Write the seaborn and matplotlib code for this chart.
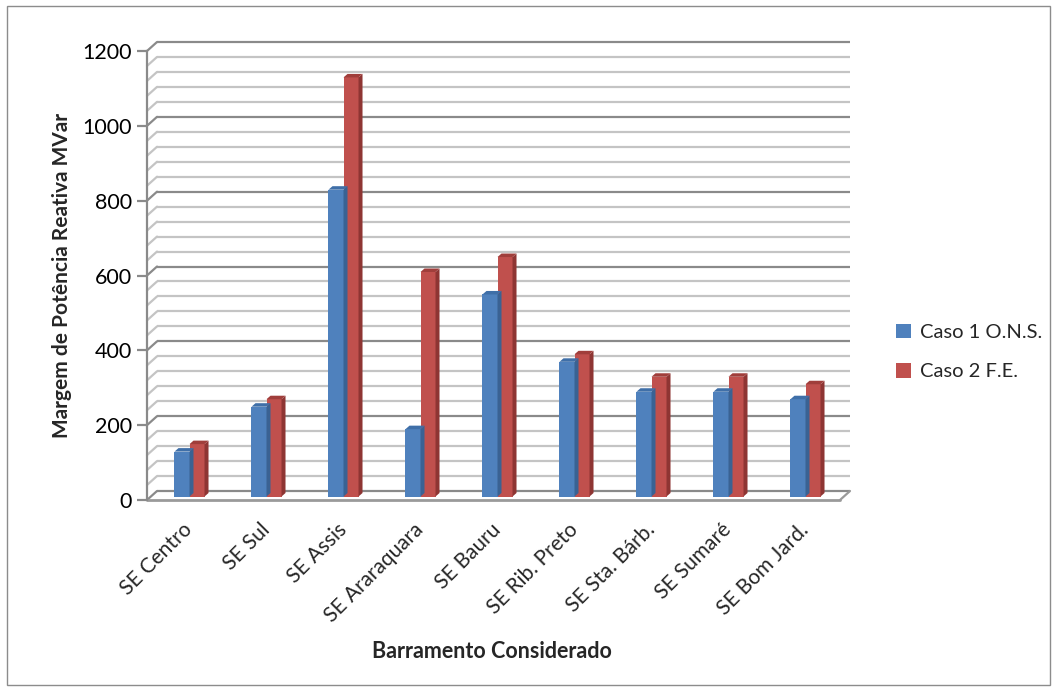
import matplotlib
matplotlib.use("Agg")
import matplotlib.pyplot as plt
import matplotlib.transforms as mtransforms
from matplotlib.patches import Polygon, Rectangle
import seaborn as sns
import pandas as pd

# --- data -------------------------------------------------------------
barramentos = ["SE Centro", "SE Sul", "SE Assis", "SE Araraquara", "SE Bauru",
               "SE Rib. Preto", "SE Sta. Bárb.", "SE Sumaré", "SE Bom Jard."]
caso1_ons = [120, 240, 820, 180, 540, 360, 280, 280, 260]
caso2_fe = [140, 260, 1120, 600, 640, 380, 320, 320, 300]
series_names = ["Caso 1 O.N.S.", "Caso 2 F.E."]
y_ticks = [0, 200, 400, 600, 800, 1000, 1200]

df = pd.DataFrame({
    "Barramento": barramentos * 2,
    "Margem": caso1_ons + caso2_fe,
    "Caso": [series_names[0]] * len(barramentos) + [series_names[1]] * len(barramentos),
})

# --- style ------------------------------------------------------------
sns.set_theme(style="white")
plt.rcParams["font.family"] = ["Lato", "DejaVu Sans"]

BLUE, RED = "#4F81BD", "#C0504D"
BLUE_SIDE, RED_SIDE = "#3A6293", "#8E3533"
BLUE_TOP, RED_TOP = "#3F6FA8", "#A03E3B"
MINOR_GRID, MAJOR_GRID = "#C4C4C4", "#8A8A8A"

DPI = 100
fig = plt.figure(figsize=(10.57, 6.91), dpi=DPI)
W, H = 1057, 691

# front plane of the plot area, in pixels
x0, x1 = 147, 840
y_zero, y_top = 500, 51
ax = fig.add_axes([x0 / W, (H - y_zero) / H, (x1 - x0) / W, (y_zero - y_top) / H])
ax.set_xlim(-0.5, len(barramentos) - 0.5)
ax.set_ylim(0, 1200)

# depth offsets (pixels) for the back wall and for the bars
WALL_DX, WALL_DY = 10, 9
BAR_DX, BAR_DY = 4, 3.5
wall_tr = ax.transData + mtransforms.ScaledTranslation(WALL_DX / DPI, WALL_DY / DPI, fig.dpi_scale_trans)
bar_shift = mtransforms.ScaledTranslation(BAR_DX / DPI, BAR_DY / DPI, fig.dpi_scale_trans)

xl = ax.get_xlim()
# back wall grid lines plus the diagonals on the left side wall
for v in range(0, 1201, 40):
    major = v % 200 == 0
    col = MAJOR_GRID if major else MINOR_GRID
    lw = 1.6
    ax.plot(xl, [v, v], color=col, lw=lw, transform=wall_tr, clip_on=False, zorder=1,
            solid_capstyle="butt")
    p0 = ax.transData.transform((xl[0], v))
    p1 = p0 + [WALL_DX, WALL_DY]
    ax.add_line(plt.Line2D([p0[0], p1[0]], [p0[1], p1[1]], color=col, lw=lw,
                           transform=None, clip_on=False, zorder=1))

# floor: front edge and right diagonal
pf0 = ax.transData.transform((xl[0], 0))
pf1 = ax.transData.transform((xl[1], 0))
ax.add_line(plt.Line2D([pf0[0], pf1[0]], [pf0[1], pf1[1]], color="#9A9A9A", lw=2,
                       transform=None, clip_on=False, zorder=2))
ax.add_line(plt.Line2D([pf1[0], pf1[0] + WALL_DX], [pf1[1], pf1[1] + WALL_DY], color="#9A9A9A",
                       lw=1.6, transform=None, clip_on=False, zorder=2))

# --- bars -------------------------------------------------------------
sns.barplot(data=df, x="Barramento", y="Margem", hue="Caso", palette=[BLUE, RED],
            width=0.39, saturation=1, ax=ax, edgecolor="none", linewidth=0, zorder=3)

SIDE_W, TOP_H = 4, 3.5
side_cols = {BLUE: (BLUE_SIDE, BLUE_TOP), RED: (RED_SIDE, RED_TOP)}
for cont, base_col in zip(ax.containers, [BLUE, RED]):
    side_c, top_c = side_cols[base_col]
    for bar in cont:
        bar.set_transform(ax.transData + bar_shift)
        bx, bw, bh = bar.get_x(), bar.get_width(), bar.get_height()
        br = ax.transData.transform((bx + bw, 0)) + [BAR_DX, BAR_DY]
        tl = ax.transData.transform((bx, bh)) + [BAR_DX, BAR_DY]
        tr = ax.transData.transform((bx + bw, bh)) + [BAR_DX, BAR_DY]
        d = [SIDE_W, TOP_H]
        ax.add_patch(Polygon([br, tr, tr + d, br + d], closed=True, facecolor=side_c,
                             edgecolor="none", transform=None, clip_on=False, zorder=3))
        ax.add_patch(Polygon([tl, tr, tr + d, tl + d], closed=True, facecolor=top_c,
                             edgecolor="none", transform=None, clip_on=False, zorder=3))

# --- axes, ticks, labels ---------------------------------------------
for s in ["top", "right", "bottom"]:
    ax.spines[s].set_visible(False)
ax.spines["left"].set_color("#8A8A8A")
ax.spines["left"].set_linewidth(1.6)
ax.set_yticks(y_ticks)
ax.tick_params(axis="y", length=7, width=1.6, color="#8A8A8A", labelsize=15.5, pad=4,
               left=True, labelcolor="black")
ax.tick_params(axis="x", length=0, labelsize=15, pad=2)
ax.set_xticks(range(len(barramentos)))
ax.set_xticklabels(barramentos, rotation=45, ha="right", va="center", rotation_mode="anchor")
for lbl in ax.get_xticklabels():
    lbl.set_transform(lbl.get_transform() + mtransforms.ScaledTranslation(4 / DPI, -24 / DPI, fig.dpi_scale_trans))
ax.grid(False)

ax.set_ylabel("")
ax.set_xlabel("")
fig.text(62 / W, 1 - 275 / H, "Margem de Potência Reativa MVar", rotation=90, ha="center",
         va="center", fontsize=15, fontweight="bold")
fig.text(492 / W, 1 - 651 / H, "Barramento Considerado", ha="center", va="center",
         fontsize=15.5, fontweight="bold")

# legend
sns.move_legend(ax, loc="center left", bbox_to_anchor=(878 / W, 1 - 352 / H),
                bbox_transform=fig.transFigure, frameon=False, title=None, fontsize=14.5,
                handlelength=0.75, handleheight=0.75, handletextpad=0.45, labelspacing=1.1)

# chart frame
fig.add_artist(Rectangle((7 / W, 6 / H), 1043 / W, 679 / H, transform=fig.transFigure,
                         fill=False, edgecolor="#8C8C8C", lw=1.0))

fig.savefig("out.png", dpi=DPI)
